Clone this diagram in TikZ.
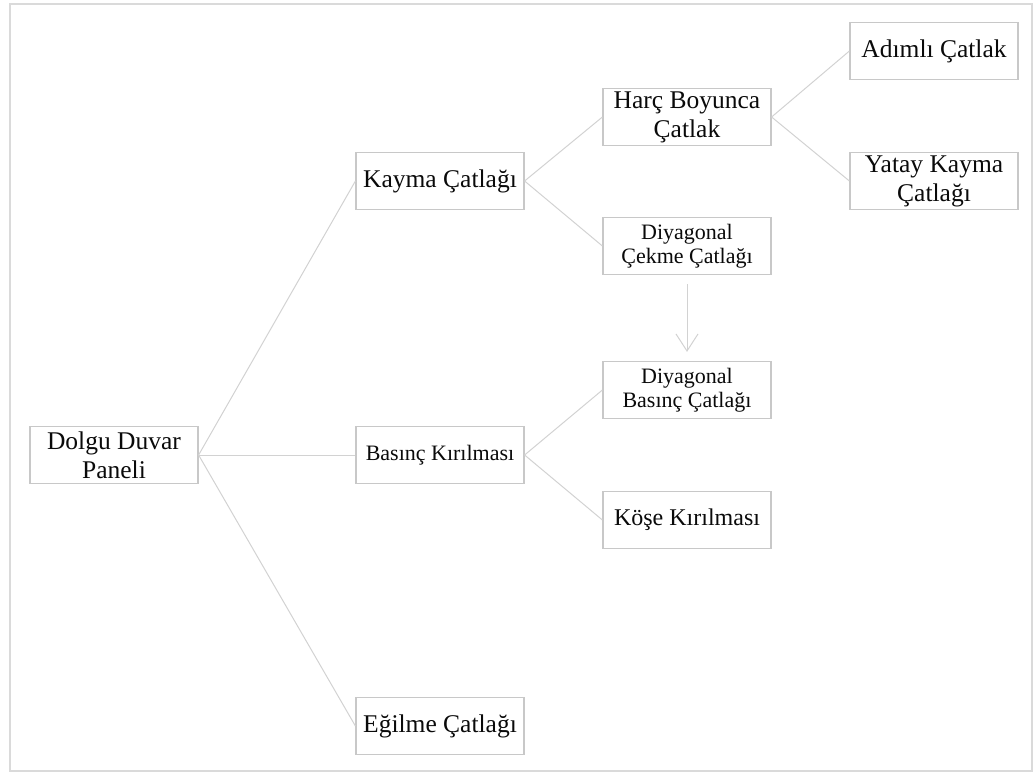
\documentclass[tikz,border=0pt]{standalone}
\usepackage{fontspec}
\setmainfont{Liberation Serif}
\usetikzlibrary{arrows.meta}
\definecolor{boxgray}{RGB}{200,200,200}
\definecolor{linegray}{RGB}{210,210,210}
\definecolor{framegray}{RGB}{218,218,218}
\definecolor{textgray}{RGB}{10,10,10}

\begin{document}
\begin{tikzpicture}[x=1pt,y=-1pt,
	boxstyle/.style={draw=boxgray,line width=1.2pt,fill=white,minimum width=168pt,minimum height=57pt,inner sep=0pt,align=center,text=textgray,font=\fontsize{25.5}{29}\selectfont},
	smallstyle/.style={boxstyle,font=\fontsize{22}{23.5}\selectfont},
	linkstyle/.style={draw=linegray,line width=1pt}]
				\useasboundingbox (0,0) rectangle (1035,774);
				\draw[framegray,line width=2pt] (10,4) rectangle (1032,771);
				
				\node [boxstyle] (dolgu) at (114,455) {Dolgu Duvar\\Paneli};
				\node [boxstyle] (kayma) at (440,181) {Kayma Çatlağı};
				\node [smallstyle] (basinc) at (440,455) {Basınç Kırılması};
				\node [boxstyle] (egilme) at (440,726) {Eğilme Çatlağı};
				\node [boxstyle] (harc) at (687,117) {Harç Boyunca\\Çatlak};
				\node [smallstyle] (diyc) at (687,246) {Diyagonal\\Çekme Çatlağı};
				\node [smallstyle] (diyb) at (687,390) {Diyagonal\\Basınç Çatlağı};
				\node [boxstyle,font=\fontsize{24}{27}\selectfont] (kose) at (687,520) {Köşe Kırılması};
				\node [boxstyle] (adimli) at (934,51) {Adımlı Çatlak};
				\node [boxstyle] (yatay) at (934,181) {Yatay Kayma\\Çatlağı};
				
				\foreach \a/\b in {dolgu/kayma,dolgu/basinc,dolgu/egilme,kayma/harc,kayma/diyc,basinc/diyb,basinc/kose,harc/adimli,harc/yatay}
				\draw[linkstyle] (\a.east)--(\b.west);
				
				\draw[linkstyle,-{Straight Barb[length=17pt,width=22pt]},shorten <=9pt,shorten >=9pt] (diyc.south)--(diyb.north);
				
			\end{tikzpicture}
\end{document}
